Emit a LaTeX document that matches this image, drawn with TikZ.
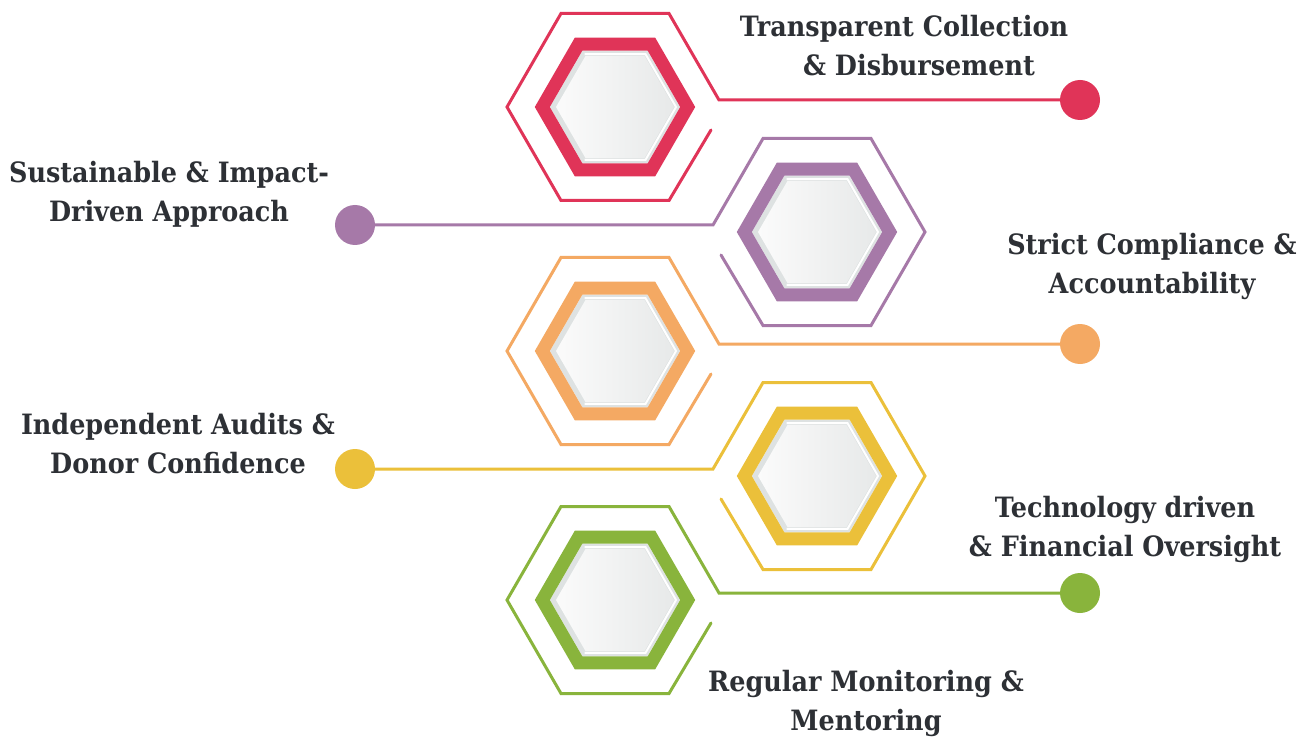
\documentclass[tikz,border=0pt]{standalone}
\usepackage{fontspec}
\setmainfont{DejaVu Serif}[FakeStretch=0.91]
\usetikzlibrary{calc}
\definecolor{cRed}{HTML}{E03458}
\definecolor{cPur}{HTML}{A679A8}
\definecolor{cOra}{HTML}{F4A963}
\definecolor{cYel}{HTML}{EBC03A}
\definecolor{cGrn}{HTML}{89B43C}
\definecolor{txt}{HTML}{2D3035}
\definecolor{rimG}{HTML}{DEE2E2}
\definecolor{faceL}{HTML}{FBFBFB}
\definecolor{faceR}{HTML}{E7E9E9}
\newcommand\hexat[2]{([shift={(0:#2)}]#1) -- ([shift={(60:#2)}]#1) -- ([shift={(120:#2)}]#1) -- ([shift={(180:#2)}]#1) -- ([shift={(240:#2)}]#1) -- ([shift={(300:#2)}]#1) -- cycle}
\begin{document}
\begin{tikzpicture}[x=1pt,y=-1pt,
  outerline/.style={line width=3pt, line join=miter, line cap=round},
  band/.style={line width=13pt, line join=miter},
  dotnode/.style={circle, minimum size=40pt, inner sep=0pt},
  lbl/.style={font=\bfseries\fontsize{28}{39}\selectfont, text=txt, align=center, inner sep=0pt}]
\useasboundingbox[fill=white] (0,0) rectangle (1308,743);
\foreach \i/\cx/\cy/\col/\s/\dx in {1/615/107/cRed/1/1080, 2/817/232/cPur/-1/355, 3/615/351/cOra/1/1080, 4/817/476/cYel/-1/355, 5/615/600/cGrn/1/1080}{
  \coordinate (h\i) at (\cx,\cy);
  \node[dotnode, fill=\col] (d\i) at (\dx,\cy-7) {};
  \draw[\col, outerline] ([shift={(\s*96,23)}]h\i) -- ([shift={(\s*54,93.5)}]h\i) -- ([shift={(\s*-54,93.5)}]h\i) -- ([shift={(\s*-108,0)}]h\i) -- ([shift={(\s*-54,-93.5)}]h\i) -- ([shift={(\s*54,-93.5)}]h\i) -- ([shift={(\s*104,-7)}]h\i) -- (d\i);
  \fill[rimG] \hexat{h\i}{65};
  \draw[white, line width=2pt] ([shift={(120:61)}]h\i) -- ([shift={(60:61)}]h\i) -- ([shift={(0:61)}]h\i) -- ([shift={(300:61)}]h\i) -- ([shift={(240:61)}]h\i);
  \shade[left color=faceL, right color=faceR] \hexat{h\i}{59};
  \draw[\col, band] \hexat{h\i}{72.7};
}
\node[lbl] (t1) at (904,45.5) {Transparent Collection\\\hspace*{30pt}\& Disbursement};
\node[lbl] (t2) at (169,194.5) {Sustainable \& Impact-\\Driven Approach};
\node[lbl] (t3) at (1152,266.5) {Strict Compliance \&\\Accountability};
\node[lbl] (t4) at (178,443.5) {Independent Audits \&\\Donor Confidence};
\node[lbl] (t5) at (1125,529.5) {Technology driven\\\& Financial Oversight};
\node[lbl] (t6) at (866,703) {Regular Monitoring \&\\Mentoring};
\end{tikzpicture}
\end{document}
